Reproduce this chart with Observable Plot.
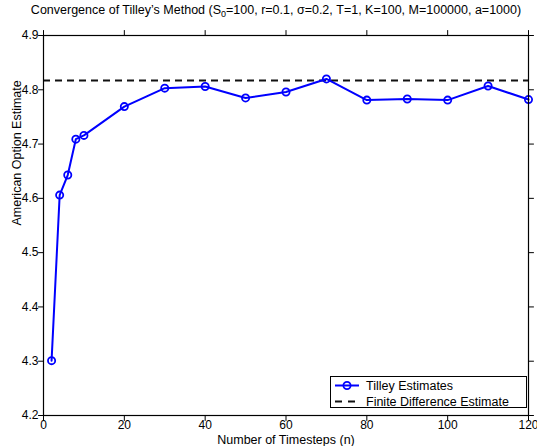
<!DOCTYPE html>
<html>
<head>
<meta charset="utf-8">
<script src="https://cdn.jsdelivr.net/npm/d3@7"></script>
<script src="https://cdn.jsdelivr.net/npm/@observablehq/plot@0.6"></script>
<style>
  html, body { margin: 0; padding: 0; background: #fff; }
  #wrap { position: relative; width: 537px; height: 446px; font-family: "Liberation Sans", Arial, Helvetica, sans-serif; }
  #title { position: absolute; left: 0; top: 3px; width: 552px; text-align: center; font-size: 12.5px; color: #000; white-space: nowrap; }
  #title sub { font-size: 9px; vertical-align: -3px; line-height: 0; }
  #legend { position: absolute; left: 330px; top: 376px; }
</style>
</head>
<body>
<div id="wrap">
  <div id="chart"></div>
  <div id="title">Convergence of Tilley’s Method (S<sub>0</sub>=100, r=0.1, σ=0.2, T=1, K=100, M=100000, a=1000)</div>
  <svg id="legend" width="198" height="33"></svg>
</div>
<script>
// Data
const timesteps = [2, 4, 6, 8, 10, 20, 30, 40, 50, 60, 70, 80, 90, 100, 110, 120];
const tilleyEstimates = [4.301, 4.606, 4.643, 4.709, 4.716, 4.769, 4.803, 4.806, 4.785, 4.796, 4.820, 4.781, 4.783, 4.781, 4.807, 4.782];
const finiteDifferenceEstimate = [4.817];
const xTicks = [0, 20, 40, 60, 80, 100, 120];
const yTicks = [4.2, 4.3, 4.4, 4.5, 4.6, 4.7, 4.8, 4.9];
const seriesLabels = ["Tilley Estimates", "Finite Difference Estimate"];
const xLabel = "Number of Timesteps (n)";
const yLabel = "American Option Estimate";

const points = timesteps.map((n, i) => ({n, v: tilleyEstimates[i]}));
const tick = {draw(ctx, l) { ctx.moveTo(0, 0); ctx.lineTo(0, l); }};
const font = "Liberation Sans, Arial, Helvetica, sans-serif";

const chart = Plot.plot({
  width: 537,
  height: 446,
  marginLeft: 43,
  marginRight: 9,
  marginTop: 35,
  marginBottom: 31,
  style: {fontFamily: font, fontSize: "12px", background: "#fff", color: "#000", overflow: "visible"},
  x: {domain: [0, 120], ticks: xTicks, tickSize: 0, tickPadding: 5, tickFormat: d => String(d), label: null},
  y: {domain: [4.2, 4.9], ticks: yTicks, tickSize: 0, tickPadding: 5, tickFormat: d => d.toFixed(1), label: null},
  marks: [
    Plot.ruleY(finiteDifferenceEstimate, {y: d => d, stroke: "#111", strokeWidth: 2, strokeDasharray: "7,5"}),
    Plot.line(points, {x: "n", y: "v", stroke: "#0000ff", strokeWidth: 2}),
    Plot.dot(points, {x: "n", y: "v", r: 3.6, stroke: "#0000ff", strokeWidth: 1.8, fill: "none"}),
    // inward ticks on all four sides (MATLAB style)
    Plot.vector(xTicks, {x: d => d, frameAnchor: "bottom", length: 5, rotate: 0, anchor: "start", shape: tick, stroke: "#000", strokeWidth: 1}),
    Plot.vector(xTicks, {x: d => d, frameAnchor: "top", length: 5, rotate: 180, anchor: "start", shape: tick, stroke: "#000", strokeWidth: 1}),
    Plot.vector(yTicks, {y: d => d, frameAnchor: "left", length: 5, rotate: 90, anchor: "start", shape: tick, stroke: "#000", strokeWidth: 1}),
    Plot.vector(yTicks, {y: d => d, frameAnchor: "right", length: 5, rotate: -90, anchor: "start", shape: tick, stroke: "#000", strokeWidth: 1}),
    Plot.frame({stroke: "#000", strokeWidth: 1.2}),
    Plot.text([xLabel], {text: d => d, frameAnchor: "bottom", dy: 24, lineAnchor: "middle", fontSize: 12.5, fill: "#000"}),
    Plot.text([yLabel], {text: d => d, frameAnchor: "left", dx: -27, rotate: -90, lineAnchor: "middle", fontSize: 12.5, fill: "#000"})
  ]
});
document.getElementById("chart").appendChild(chart);

// Legend
const lg = d3.select("#legend");
lg.append("rect").attr("x", 0.5).attr("y", 0.5).attr("width", 196).attr("height", 31).attr("fill", "#fff").attr("stroke", "#000").attr("stroke-width", 1);
lg.append("line").attr("x1", 5).attr("x2", 29).attr("y1", 9.5).attr("y2", 9.5).attr("stroke", "#0000ff").attr("stroke-width", 2);
lg.append("circle").attr("cx", 17).attr("cy", 9.5).attr("r", 3.6).attr("fill", "none").attr("stroke", "#0000ff").attr("stroke-width", 1.8);
lg.append("line").attr("x1", 5).attr("x2", 25).attr("y1", 25.5).attr("y2", 25.5).attr("stroke", "#111").attr("stroke-width", 2).attr("stroke-dasharray", "7,6");
lg.selectAll("text.lab").data(seriesLabels).join("text")
  .attr("x", 36).attr("y", (d, i) => 9.5 + i * 16).attr("dy", "0.35em")
  .attr("font-family", font).attr("font-size", 12.5).attr("fill", "#000").text(d => d);
</script>
</body>
</html>
